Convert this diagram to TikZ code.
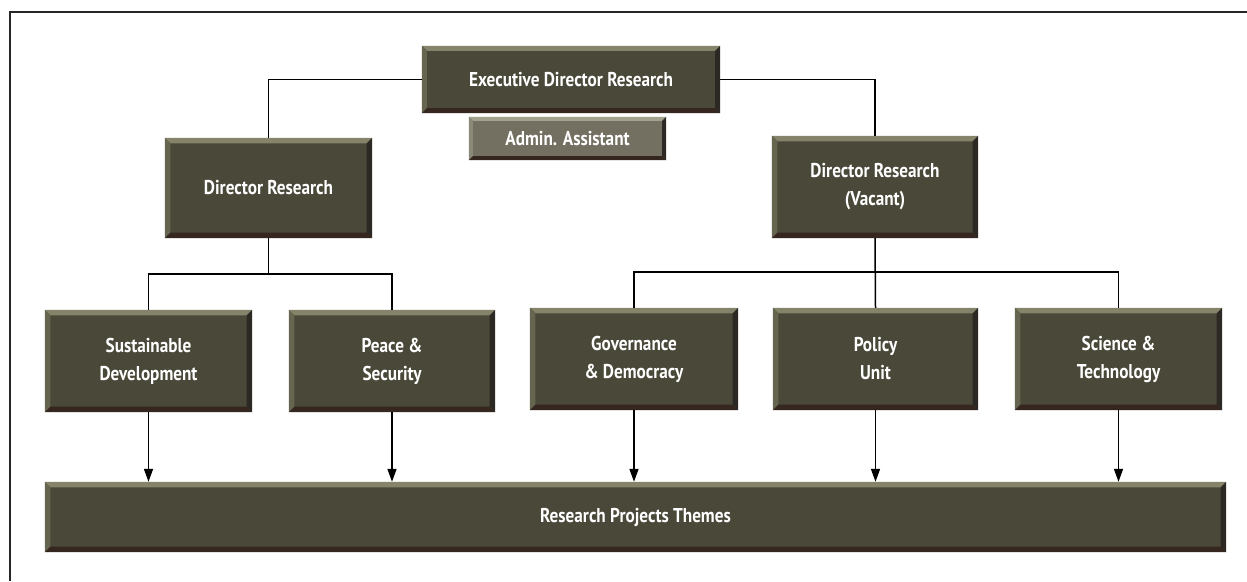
\documentclass[tikz,border=0pt]{standalone}
\usepackage{fontspec}
\newfontfamily\boxfont{PT Sans}[FakeStretch=0.86]
\usetikzlibrary{arrows.meta}
\definecolor{boxfill}{HTML}{4A4839}
\definecolor{bevtopc}{HTML}{85846B}
\definecolor{bevleftc}{HTML}{666550}
\definecolor{bevrightc}{HTML}{2C2924}
\definecolor{bevbotc}{HTML}{35271F}
\definecolor{admfill}{HTML}{747061}
\definecolor{admtop}{HTML}{A3A28E}
\definecolor{admleft}{HTML}{8A8876}
\tikzset{
  orgbox/.style={fill=boxfill, text=white, align=center, inner sep=0pt,
    font=\boxfont\bfseries\fontsize{20}{28}\selectfont},
  admbox/.style={orgbox, fill=admfill},
  conn/.style={line width=1.5pt, black},
  arr/.style={conn, -{Triangle[length=13pt,width=9pt]}},
  frame/.style={line width=1.4pt, black!85}
}
\newcommand\bev[4]{% node, bevel width, top colour, left colour
  \fill[#3] (#1.north west) -- (#1.north east) -- ([shift={(-#2,-#2)}]#1.north east) -- ([shift={(#2,-#2)}]#1.north west) -- cycle;
  \fill[#4] (#1.north west) -- ([shift={(#2,-#2)}]#1.north west) -- ([shift={(#2,#2)}]#1.south west) -- (#1.south west) -- cycle;
  \fill[bevrightc] (#1.north east) -- ([shift={(-#2,-#2)}]#1.north east) -- ([shift={(-#2,#2)}]#1.south east) -- (#1.south east) -- cycle;
  \fill[bevbotc] (#1.south west) -- ([shift={(#2,#2)}]#1.south west) -- ([shift={(-#2,#2)}]#1.south east) -- (#1.south east) -- cycle;
}
\begin{document}
\begin{tikzpicture}[x=1pt,y=-1pt]
\useasboundingbox[fill=white] (0,0) rectangle (1247,581);
% frame
\draw[frame] (10,581) -- (10,12) -- (1247,12);
% boxes
\node[orgbox, minimum width=298pt, minimum height=67pt] (exec) at (571,79.5) {Executive Director Research};
\node[admbox, minimum width=197pt, minimum height=43pt] (adm) at (567.5,138.5) {Admin. Assistant};
\node[orgbox, minimum width=207pt, minimum height=100pt] (dirL) at (268.5,188) {Director Research};
\node[orgbox, minimum width=206pt, minimum height=102pt] (dirR) at (875,187) {Director Research\\(Vacant)};
\node[orgbox, minimum width=207pt, minimum height=102pt] (sd) at (148.5,361) {Sustainable\\Development};
\node[orgbox, minimum width=206pt, minimum height=102pt] (ps) at (392,361) {Peace \&\\Security};
\node[orgbox, minimum width=208pt, minimum height=102pt] (gd) at (634,359) {Governance\\\& Democracy};
\node[orgbox, minimum width=205pt, minimum height=102pt] (pu) at (875.5,359) {Policy\\Unit};
\node[orgbox, minimum width=207pt, minimum height=102pt] (st) at (1118.5,359) {Science \&\\Technology};
\node[orgbox, minimum width=1181pt, minimum height=70pt] (bar) at (635.5,517) {Research Projects Themes};
% bevels
\bev{exec}{5pt}{bevtopc}{bevleftc}
\bev{adm}{4pt}{admtop}{admleft}
\foreach \n in {dirL,dirR,sd,ps,gd,pu,st,bar}{\bev{\n}{5.5pt}{bevtopc}{bevleftc}}
% connectors
\coordinate (jL) at (268.5,274);
\coordinate (jR) at (875,272);
\draw[conn] (exec.west) -| (dirL.north);
\draw[conn] (exec.east) -| (dirR.north);
\draw[conn] (dirL.south) -- (jL);
\draw[conn] (sd.north) |- (jL) -| (ps.north);
\draw[conn] (dirR.south) -- (pu.north);
\draw[conn] (gd.north) |- (jR) -| (st.north);
\foreach \n in {sd,ps,gd,pu,st}{
  \draw[arr] (\n.south) -- (\n.south |- bar.north);
}
\end{tikzpicture}
\end{document}
